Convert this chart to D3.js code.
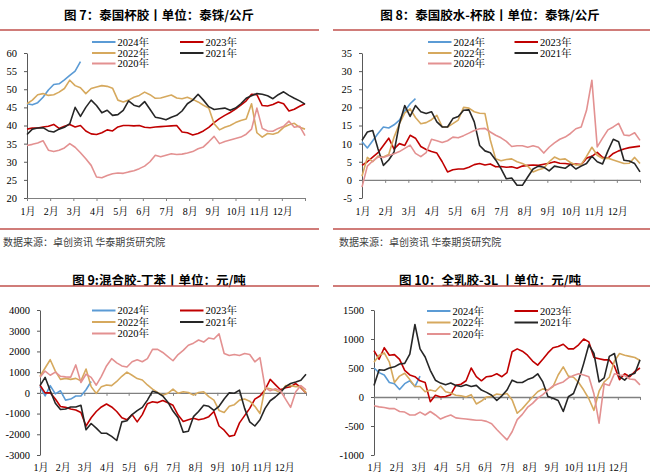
<!DOCTYPE html>
<html lang="zh">
<head>
<meta charset="UTF-8">
<title>泰国杯胶 / 胶水 / 混合胶 / 全乳胶</title>
<script src="https://cdn.jsdelivr.net/npm/d3@7"></script>
<style>
  body { margin: 0; background: #fff; }
  svg { display: block; }
</style>
</head>
<body>
<script>
// ---- data: one value per week (53 points over the year) ----
var months = ["1月","2月","3月","4月","5月","6月","7月","8月","9月","10月","11月","12月"];
var years = ["2024年","2023年","2022年","2021年","2020年"];

// 图7 泰国杯胶 (泰铢/公斤)
var cup2024 = [46,45.7,46.3,47.8,49.8,51.3,51.5,52.6,53.8,55,57.6];
var cup2023 = [39,39.3,39.3,39.6,39.8,40.3,39.2,39.8,40.3,39.6,40,38.5,37.7,37.5,38,38.8,38.5,39.6,40,40,39.9,40,39.5,39.4,39.6,39.7,39.8,39.9,40,38.2,38,37.4,37.8,38.5,39.5,40.8,41.9,42.8,43.6,44.5,45.6,46.8,48.6,48.5,45.5,45.4,45.8,46.5,46,44,44.5,45.3,46];
var cup2022 = [46,47,48.5,48.8,48.3,48.5,49.2,50.2,52.5,51,50.4,48.8,50.2,50.6,51,50.8,50.3,47,46.5,47,47.8,48.3,49.2,48.5,47.5,47.6,48,48.4,47.6,47.4,47.8,47.2,46.5,45.6,44.8,40.5,38.8,39.5,40,40.8,41.4,41.8,46,38,36.8,37.8,37.6,38.1,39.5,40.2,40.6,39.5,39];
var cup2021 = [37.5,39,39.3,39.4,38.5,38.2,39,39.5,40.5,45,42.5,45,47,45.5,43.5,44.2,42.8,43,44.2,46.8,45.6,45.2,46.6,44.5,42.3,42,41.6,42.3,42.8,44,46,47,48.6,47,45.2,44.4,44.6,44.8,44.2,44.8,46,47.5,48.2,48.8,48.6,48.2,47.4,48.5,49.3,48.3,47.5,46.8,45.9];
var cup2020 = [34.5,34.8,35.2,35.8,33.2,32.8,33.2,33.8,35,34,32.5,30.8,29,25.8,25.6,26.2,26.7,26.9,26.8,27.2,27.5,28.1,28.8,30,31.8,31.4,31.8,32.2,32,32.1,32.4,32.8,33.6,34.1,35.5,37,35,35.6,36,36.4,36.8,37.6,39,44.8,39.2,38.5,38.4,39.2,39.8,41.2,39.5,39.8,37.2];

// 图8 泰国胶水-杯胶 (泰铢/公斤)
var spr2024 = [10.5,8.8,10.8,12.8,14.6,14.3,15.2,16.5,19,21,22.4];
var spr2023 = [4,5,6.3,7.5,9.5,11.5,8.5,10,9.5,12.3,11.5,9.2,8.4,7.8,7.4,5,2.2,2.8,3,3,3.5,4.2,4.5,4.1,4.4,3.6,3.7,3.5,3.6,3.2,3.8,4,4.1,4,4.3,4.6,5,4.6,4.5,4.3,4.4,4.2,6,6.5,7.6,6.2,6,7.3,8,8.5,8.9,9.1,9.3];
var spr2022 = [1,6.2,5,6.6,6.3,7,11.8,15.5,18.5,19.6,17.2,15.5,15.8,16.6,17.8,14.6,14.6,15.5,16.5,20,19.8,18.8,18.4,18.3,11,5.8,5.3,5.6,5.8,5,4.5,3.8,2.2,2.8,3.2,5,6.3,5.6,5.8,4.8,4.1,4.2,6.5,9,6.8,5.9,6,5.5,5,4.5,4.6,6.2,4.5];
var spr2021 = [10.9,13.2,13.6,8.5,4,5.5,7.7,15.5,20.5,17.5,20.5,18.8,18.3,18.8,16,14.6,14.6,16.9,17.5,19.2,19.3,16,9.5,8,7.5,5.5,3.1,0.3,0.5,-1.5,-1.5,0.8,3,3.8,3.5,2.5,3.8,3.5,3.2,4.3,3,3.8,4.5,6.5,5,4.4,8,11.2,10.5,5.4,5.2,4.5,2.2];
var spr2020 = [-2,3.8,5.2,6.3,6.2,6.7,7.2,7.8,8.7,9.6,7.3,6.4,7.5,11.2,10.8,10.3,10.8,11.8,11.6,12.2,12.9,13.6,14.1,14.2,13.2,12.3,11.6,10.6,9.2,9.4,9.4,9,9.4,9,7.4,9,10.2,11.2,11.8,12.8,14.1,14.6,19.2,27.5,9.1,11.5,13.8,14.6,15.6,12.4,12.2,13,10.9];

// 图9 混合胶-丁苯 (元/吨)
var mix2024 = [300,-150,350,-50,100,-350,-300,-150,-150,150,550];
var mix2023 = [370,0,0,-300,-660,-700,-780,-830,-950,-1600,-1200,-900,-680,-540,-680,-900,-1200,-1300,-1050,-1400,-1050,-520,-430,-470,-370,-480,-600,-1070,-1380,-1300,-1230,-1300,-1250,-1150,-900,-1600,-1800,-2100,-2050,-1450,-1100,-750,-300,-150,150,650,400,150,250,300,450,250,0];
var mix2022 = [800,1200,1600,1050,650,700,650,700,580,1150,300,-30,300,380,350,550,800,1000,850,690,620,380,180,20,-110,-20,180,-20,50,20,-110,20,50,-180,-350,-850,-950,-650,-570,-350,-300,-400,-650,-1000,250,200,130,0,350,350,300,300,0];
var mix2021 = [350,750,100,-500,-800,-780,-680,-680,-600,-1780,-1480,-1700,-1950,-1950,-2100,-2300,-1400,-1350,-1050,-860,-700,-350,80,0,-150,-450,-880,-1200,-1900,-1850,-1150,-900,-600,-650,-850,-650,-300,0,-20,130,-750,-1400,-1600,-1300,-750,-380,-200,20,300,450,520,610,900];
var mix2020 = [750,1050,850,1000,800,770,760,1350,500,900,750,370,800,1300,1650,1450,1300,1250,1500,1600,1500,1650,2100,2100,1950,1750,1550,1850,2050,2300,2400,2550,2450,2650,2600,2850,1900,1800,1850,1800,1900,1850,1500,1700,250,100,200,100,-300,-700,50,350,150];

// 图10 全乳胶-3L (元/吨)
var whole2024 = [500,420,380,250,230,130,230,280,180,360];
var whole2023 = [800,650,850,720,730,650,460,380,350,280,250,-80,30,0,10,40,200,220,280,500,350,280,350,360,400,350,420,780,830,790,720,620,550,650,760,850,870,910,830,830,900,1000,950,680,660,640,640,530,300,400,350,440,500];
var whole2022 = [600,720,760,600,250,360,410,300,180,180,90,120,100,190,90,70,30,20,0,40,-120,-70,0,10,50,40,60,-50,-280,-200,-100,0,90,140,120,180,380,520,360,340,250,120,-30,-230,100,260,340,620,750,720,700,680,630];
var whole2021 = [200,470,460,500,520,570,580,740,1250,830,690,460,290,240,210,240,200,180,210,180,200,120,80,30,-60,20,120,290,250,250,300,330,400,260,10,-20,-60,-250,5,60,290,580,900,750,260,330,700,750,350,290,380,410,640];
var whole2020 = [-150,-170,-180,-200,-200,-250,-260,-310,-310,-260,-310,-250,-310,-380,-340,-310,-360,-370,-380,-390,-400,-400,-420,-460,-560,-650,-740,-600,-390,-300,-180,-110,-20,40,120,190,230,260,330,370,400,380,350,50,-450,230,200,400,380,370,310,300,210];

var cupTicks = [20,25,30,35,40,45,50,55,60];
var sprTicks = [-5,0,5,10,15,20,25,30,35];
var mixTicks = [-3000,-2000,-1000,0,1000,2000,3000,4000];
var wholeTicks = [-1000,-500,0,500,1000,1500];

// ---- styles ----
var colors = ["#5B9BD5", "#C00000", "#D6A95E", "#262626", "#E39191"];
var accent = "#C0504D";
var serif = "'Liberation Serif','Times New Roman','Noto Serif CJK SC','Noto Sans CJK SC',serif";
var sans = "'Noto Sans CJK SC','Noto Sans',sans-serif";

var panels = [
  { title: "图 7：泰国杯胶丨单位：泰铢/公斤", ox: 0, titleY: 14, rules: [30, 229], source: 241,
    x0: 27, x1: 305, yTop: 53, yBot: 198, dom: [60, 20], ticks: cupTicks, base: 20, labY: 211,
    leg: { c1: 92, c2: 180, rows: [42, 53, 63.5] },
    series: [cup2024, cup2023, cup2022, cup2021, cup2020] },
  { title: "图 8：泰国胶水-杯胶丨单位：泰铢/公斤", ox: 331, titleY: 14, rules: [30, 229], source: 241,
    x0: 362, x1: 640, yTop: 53, yBot: 198, dom: [35, -5], ticks: sprTicks, base: 0, labY: 211,
    leg: { c1: 428, c2: 514.5, rows: [42, 53, 63.5] },
    series: [spr2024, spr2023, spr2022, spr2021, spr2020] },
  { title: "图 9:混合胶-丁苯丨单位：元/吨", ox: 0, titleY: 279, rules: [286], source: null,
    x0: 40, x1: 306, yTop: 310, yBot: 455, dom: [4000, -3000], ticks: mixTicks, base: 0, labY: 467,
    leg: { c1: 92, c2: 180, rows: [310.5, 322, 333.5] },
    series: [mix2024, mix2023, mix2022, mix2021, mix2020] },
  { title: "图 10：全乳胶-3L 丨单位：元/吨", ox: 331, titleY: 279, rules: [286], source: null,
    x0: 374, x1: 640, yTop: 310, yBot: 455, dom: [1500, -1000], ticks: wholeTicks, base: 0, labY: 467,
    leg: { c1: 427, c2: 514.5, rows: [311, 322.5, 334] },
    series: [whole2024, whole2023, whole2022, whole2021, whole2020] }
];

var svg = d3.select("body").append("svg")
  .attr("width", 662)
  .attr("height", 474);

panels.forEach(function(p) {
  var g = svg.append("g");

  // title + red rules
  g.append("text")
    .attr("x", p.ox + 159).attr("y", p.titleY)
    .attr("text-anchor", "middle").attr("dominant-baseline", "central")
    .style("font-family", sans).style("font-size", "12.5px").style("font-weight", "bold")
    .attr("fill", "#000")
    .text(p.title);

  p.rules.forEach(function(ry) {
    g.append("line")
      .attr("x1", p.ox + (p.ox ? 2 : 0)).attr("x2", p.ox + 319)
      .attr("y1", ry).attr("y2", ry)
      .attr("stroke", accent).attr("stroke-width", 1.6);
  });

  if (p.source) {
    g.append("text")
      .attr("x", p.ox + (p.ox ? 8 : 3)).attr("y", p.source)
      .attr("dominant-baseline", "central")
      .style("font-family", sans).style("font-size", "10px")
      .attr("fill", "#404040")
      .text("数据来源：卓创资讯 华泰期货研究院");
  }

  var x = d3.scaleLinear().domain([0, 12]).range([p.x0, p.x1]);
  var y = d3.scaleLinear().domain(p.dom).range([p.yTop, p.yBot]);

  // y axis
  var ya = g.append("g")
    .attr("transform", "translate(" + p.x0 + ",0)")
    .call(d3.axisLeft(y).tickValues(p.ticks).tickSize(3).tickSizeOuter(0).tickPadding(7)
      .tickFormat(function(d) { return String(d); }));
  ya.select(".domain").attr("stroke", "#595959");
  ya.selectAll(".tick line").attr("stroke", "#595959");
  ya.selectAll("text").style("font-family", serif).style("font-size", "10.5px").attr("fill", "#000");

  // x axis on the base line
  var xa = g.append("g")
    .attr("transform", "translate(0," + y(p.base) + ")")
    .call(d3.axisBottom(x).tickValues(d3.range(0, 13)).tickSize(3).tickSizeOuter(0).tickFormat(""));
  xa.select(".domain").attr("stroke", "#808080").attr("stroke-width", p.base === 0 ? 1.4 : 1);
  xa.selectAll(".tick line").attr("stroke", "#808080");

  // month labels at the bottom
  g.selectAll(".mlab").data(months).enter().append("text")
    .attr("x", function(d, i) { return x(i) + 1; })
    .attr("y", p.labY)
    .attr("text-anchor", "middle").attr("dominant-baseline", "central")
    .style("font-family", serif).style("font-size", "10px")
    .attr("fill", "#000")
    .text(function(d) { return d; });

  // lines, 2024 first so 2020 ends on top
  var line = d3.line()
    .x(function(d, i) { return x(i * 12 / 52); })
    .y(function(d) { return y(d); });

  p.series.forEach(function(s, k) {
    g.append("path")
      .datum(s)
      .attr("d", line)
      .attr("fill", "none")
      .attr("stroke", colors[k])
      .attr("stroke-width", 1.6)
      .attr("stroke-linejoin", "round");
  });

  // legend: two columns, row-major
  years.forEach(function(yr, k) {
    var cx = (k % 2 === 0) ? p.leg.c1 : p.leg.c2;
    var cy = p.leg.rows[Math.floor(k / 2)];
    g.append("line")
      .attr("x1", cx).attr("x2", cx + 23.5)
      .attr("y1", cy).attr("y2", cy)
      .attr("stroke", colors[k]).attr("stroke-width", 2);
    g.append("text")
      .attr("x", cx + 25.5).attr("y", cy)
      .attr("dominant-baseline", "central")
      .style("font-family", serif).style("font-size", "10.5px")
      .attr("fill", "#000")
      .text(yr);
  });
});
</script>
</body>
</html>
